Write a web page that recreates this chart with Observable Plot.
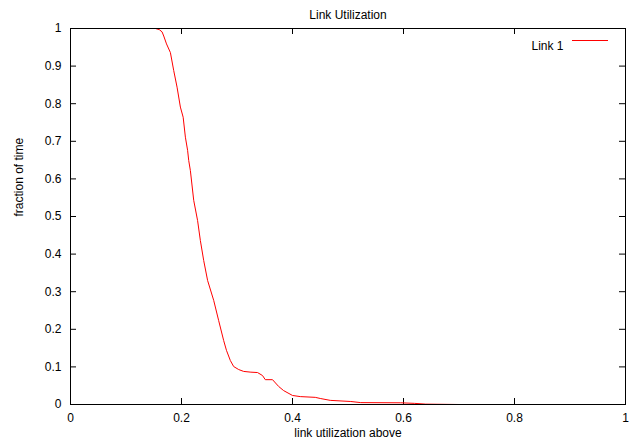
<!DOCTYPE html>
<html>
<head>
<meta charset="utf-8">
<script src="https://cdn.jsdelivr.net/npm/d3@7"></script>
<script src="https://cdn.jsdelivr.net/npm/@observablehq/plot@0.6"></script>
<style>
  html, body { margin: 0; padding: 0; background: #fff; }
  svg { display: block; }
</style>
</head>
<body>
<div id="chart"></div>
<script>
const chartTitle = "Link Utilization";
const xLabel = "link utilization above";
const yLabel = "fraction of time";
const seriesName = "Link 1";

const utilization = [0.153, 0.160, 0.165, 0.168, 0.173, 0.180, 0.186, 0.192, 0.198, 0.203, 0.207, 0.211, 0.213, 0.216, 0.222, 0.229, 0.234, 0.240, 0.247, 0.258, 0.267, 0.276, 0.281, 0.288, 0.294, 0.303, 0.312, 0.325, 0.337, 0.346, 0.351, 0.364, 0.375, 0.384, 0.400, 0.414, 0.441, 0.450, 0.468, 0.505, 0.523, 0.595, 0.620, 0.640, 0.700];
const fraction    = [1.000, 0.997, 0.991, 0.980, 0.959, 0.936, 0.888, 0.844, 0.791, 0.764, 0.711, 0.676, 0.649, 0.622, 0.543, 0.489, 0.436, 0.383, 0.330, 0.277, 0.223, 0.170, 0.144, 0.117, 0.101, 0.093, 0.088, 0.086, 0.085, 0.077, 0.066, 0.066, 0.048, 0.037, 0.024, 0.021, 0.019, 0.016, 0.011, 0.008, 0.005, 0.0045, 0.003, 0.001, 0.000];

const xTicks = [0, 0.2, 0.4, 0.6, 0.8, 1];
const xTickLabels = ["0", "0.2", "0.4", "0.6", "0.8", "1"];
const yTicks = [0, 0.1, 0.2, 0.3, 0.4, 0.5, 0.6, 0.7, 0.8, 0.9, 1];
const yTickLabels = ["0", "0.1", "0.2", "0.3", "0.4", "0.5", "0.6", "0.7", "0.8", "0.9", "1"];

const data = utilization.map((u, i) => ({u, f: fraction[i]}));

const W = 641, H = 445;
const mL = 70, mR = 16, mT = 28, mB = 41;
const innerW = W - mL - mR, innerH = H - mT - mB;
const tick = 6;
const yTop = yTicks[yTicks.length - 1];

const chart = Plot.plot({
  width: W,
  height: H,
  marginLeft: mL,
  marginRight: mR,
  marginTop: mT,
  marginBottom: mB,
  style: {fontFamily: "'Liberation Sans', Arial, sans-serif", fontSize: "12px", background: "#fff", color: "#000"},
  x: {domain: [0, 1]},
  y: {domain: [0, 1]},
  marks: [
    // inward ticks on all four sides
    Plot.tickX(xTicks, {x: d => d, stroke: "#000", insetTop: innerH - tick}),
    Plot.tickX(xTicks, {x: d => d, stroke: "#000", insetBottom: innerH - tick}),
    Plot.tickY(yTicks, {y: d => d, stroke: "#000", insetRight: innerW - tick}),
    Plot.tickY(yTicks, {y: d => d, stroke: "#000", insetLeft: innerW - tick}),
    Plot.axisX(xTicks, {tickSize: 0, tickPadding: 9, tickFormat: (d, i) => xTickLabels[i], label: null, fill: "#000"}),
    Plot.axisY(yTicks, {tickSize: 0, tickPadding: 9, tickFormat: (d, i) => yTickLabels[i], label: null, fill: "#000"}),
    Plot.line(data, {x: "u", y: "f", stroke: "#ff0000", strokeWidth: 1}),
    Plot.frame({stroke: "#000", strokeWidth: 1}),
    Plot.text([chartTitle], {frameAnchor: "top", dy: -18, fill: "#000"}),
    Plot.text([xLabel], {frameAnchor: "bottom", dy: 32, fill: "#000"}),
    Plot.text([yLabel], {frameAnchor: "left", dx: -51, rotate: -90, fill: "#000"}),
    // legend
    Plot.text([seriesName], {frameAnchor: "top-right", dx: -62, dy: 13, textAnchor: "end", fill: "#000"}),
    Plot.tickY([yTop], {y: d => d, dy: 12, insetLeft: innerW - 53, insetRight: 17, stroke: "#ff0000", strokeWidth: 1.2})
  ]
});

document.getElementById("chart").appendChild(chart);
</script>
</body>
</html>
